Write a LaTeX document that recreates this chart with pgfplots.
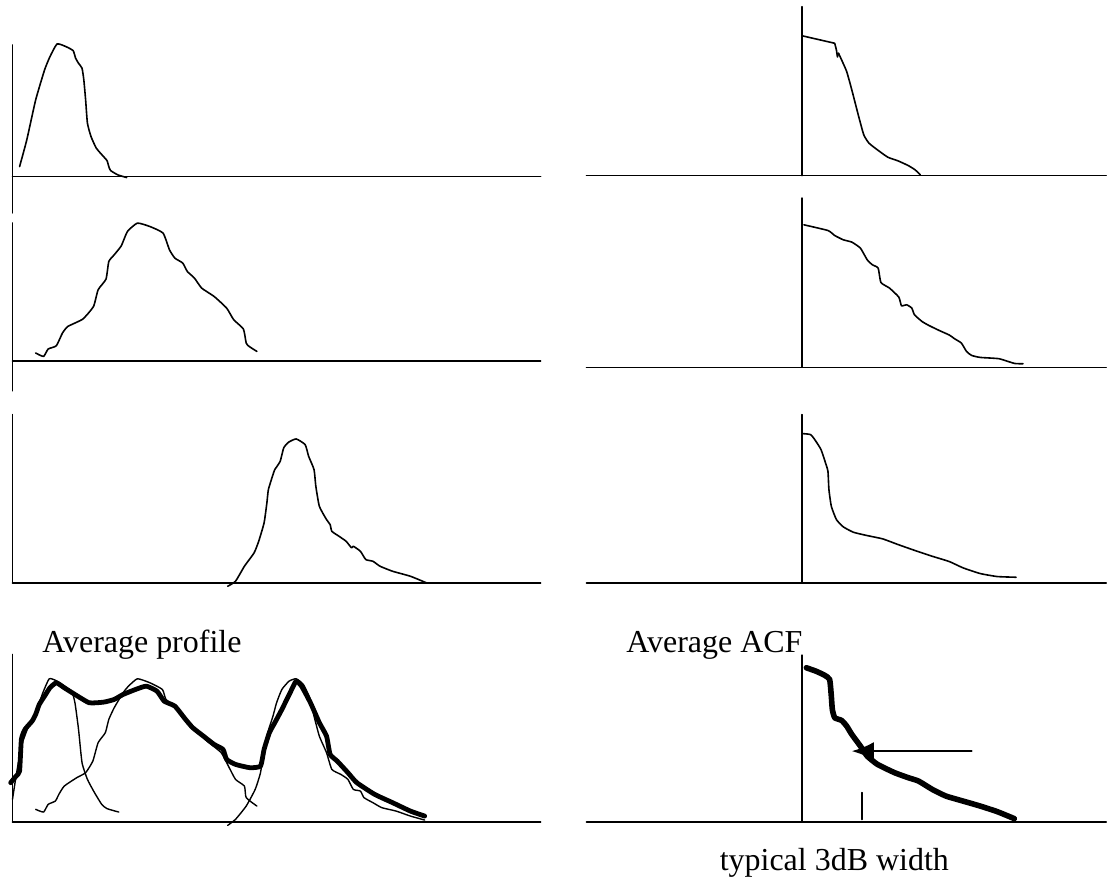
\documentclass[border=0pt]{standalone}
\usepackage{pgfplots}
\pgfplotsset{compat=1.18}
\usetikzlibrary{arrows.meta}
\usepackage{fontspec}
\setmainfont{Liberation Serif}
\begin{document}
\begin{tikzpicture}
\begin{axis}[
  width=553.5pt, height=440pt, scale only axis,
  xmin=0, xmax=1107, ymin=0, ymax=880, y dir=reverse,
  hide axis, clip=false,
  every axis plot/.append style={black, line join=round, line cap=round},
  curve/.style={smooth, tension=0.3},
]
\path (rel axis cs:0,0) rectangle (rel axis cs:1,1);
% ---------- axis lines (left column) ----------
\addplot[line width=0.9pt] coordinates {(12.5,45) (12.5,213)};
\addplot[line width=0.9pt] coordinates {(12.5,223.3) (12.5,391)};
\addplot[line width=0.9pt] coordinates {(12.5,415) (12.5,583.3)};
\addplot[line width=0.9pt] coordinates {(12.5,655) (12.5,822.7)};
\addplot[line width=0.9pt] coordinates {(12.5,176.7) (541,176.7)};
\addplot[line width=0.9pt] coordinates {(12.5,361) (541,361)};
\addplot[line width=0.9pt] coordinates {(12.5,583.3) (541,583.3)};
\addplot[line width=0.9pt] coordinates {(12.5,822.7) (541,822.7)};
% ---------- axis lines (right column) ----------
\addplot[line width=0.9pt] coordinates {(803,6.7) (803,175.7)};
\addplot[line width=0.9pt] coordinates {(803,198.3) (803,367.3)};
\addplot[line width=0.9pt] coordinates {(803,415) (803,583.3)};
\addplot[line width=0.9pt] coordinates {(803,655.7) (803,822.7)};
\addplot[line width=0.9pt] coordinates {(587,175.7) (1107,175.7)};
\addplot[line width=0.9pt] coordinates {(587,367.7) (1107,367.7)};
\addplot[line width=0.9pt] coordinates {(587,583.3) (1107,583.3)};
\addplot[line width=0.9pt] coordinates {(587,822.7) (1107,822.7)};
% ---------- profile 1 ----------
\addplot[line width=0.8pt, curve] coordinates {
(19.6,166.7) (26.8,140) (35.7,100) (44.6,70) (50,56.7) (57.1,44) (66.1,46.7) (73.2,50.7)
(75.7,58.3) (78.6,63.3) (82.1,68.3) (83.9,80) (85.7,100) (87.5,123.3) (91.1,136.7)
(96.4,148.3) (103.6,156.7) (107.1,160.7) (108.9,166.7) (110.7,170.7) (117.9,175) (126.8,177.7)};
% ---------- profile 2 ----------
\addplot[line width=0.8pt, curve] coordinates {
(35.7,353.3) (43.6,356.7) (48.2,349.3) (56.4,346) (62.5,333.3) (67.9,326.7) (82.9,319.3)
(93.6,306.7) (98.2,290) (106.1,279.3) (108.9,261.7) (114.3,255) (121.4,246) (127.5,231.7)
(137.5,223.3) (150,226.7) (163.2,233.3) (169.6,250) (175,258.3) (182.9,263.3) (187.5,271.7)
(194.6,278.3) (201.8,288.3) (214.3,296.7) (226.8,308.3) (233.9,320) (243.6,329.3)
(246.4,343.3) (249.3,346.7) (257.1,351.7)};
% ---------- profile 3 ----------
\addplot[line width=0.8pt, curve] coordinates {
(227.9,586.7) (235.7,581.7) (244.6,566.7) (254.3,553.3) (258.9,541.7) (264.3,523.3)
(267.1,503.3) (268.6,490) (273.2,475) (275,470) (280.4,461.7) (283.9,448.3) (288.6,442.7)
(296.4,439.3) (305.4,445) (308.9,456.7) (314.3,470) (316.1,486.7) (319.6,506.7) (326.8,520)
(330.4,525) (332.1,531.7) (339.3,536.7) (346.4,541.7) (351.8,548.3) (353.6,546.7)
(360.7,551.7) (366.1,560) (373.2,561.7) (380.4,566.7) (392.9,571.7) (410.7,576.7) (426.8,583.3)};
% ---------- average profile: thin copies ----------
\addplot[line width=0.7pt, curve] coordinates {
(12.5,800) (16.1,776.7) (21.4,746.7) (28.6,726.7) (35.7,713.3) (42.9,693.3) (49.3,679.3)
(57.1,681.7) (71.4,691.7) (75,703.3) (78.6,730) (82.1,763.3) (87.5,780) (94.6,793.3)
(101.8,805) (107.1,809.3) (118.9,812.7)};
\addplot[line width=0.7pt, curve] coordinates {
(35.7,810) (43.6,812.7) (48.2,805) (55.4,801.7) (58.9,795) (64.3,786.7) (76.8,778.3)
(85.7,773.3) (92.9,761.7) (98.2,743.3) (105.4,733.3) (108.9,720) (114.3,708.3) (123.2,693.3)
(128.6,686.7) (137.5,679.3) (150,683.3) (162.5,690) (166.1,700) (175,706.7) (183.9,716.7)
(192.9,726.7) (198.2,733.3) (207.1,741.7) (221.4,753.3) (228.6,766.7) (235.7,780)
(244.6,786.7) (246.4,798.3) (257.1,806.7)};
\addplot[line width=0.7pt, curve] coordinates {
(227.9,826) (235.7,820) (246.4,806.7) (255.4,790) (260.7,773.3) (264.3,750) (267.9,733.3)
(273.2,716.7) (276.8,703.3) (282.1,690) (289.3,681.7) (296.4,679.3) (303.6,685) (310.7,700)
(314.3,716.7) (319.6,736.7) (326.8,753.3) (332.1,770) (341.1,775) (348.2,780) (353.6,790)
(360.7,791.7) (364.3,798.3) (373.2,803.3) (382.1,808.3) (396.4,811.7) (410.7,816.7) (425,820.7)};
% ---------- average profile: thick ----------
\addplot[line width=2.4pt, curve] coordinates {
(10.7,783.3) (16.1,776.7) (19.6,771.7) (21.4,740) (25,730) (32.1,721.7) (35.7,715)
(39.3,705) (44.6,696.7) (50,688.3) (56.4,683.3) (64.3,688.3) (75,695) (89.3,703.3)
(103.6,702.7) (114.3,700) (123.2,695) (135.7,690) (146.4,686.7) (157.1,691.7) (164.3,701.7)
(175,706.7) (185.7,720) (192.9,728.3) (203.6,736.7) (214.3,745) (223.2,750) (226.8,760)
(235.7,765) (250,768.3) (260.7,766.7) (264.3,750) (269.6,733.3) (275,723.3) (282.1,710)
(291.1,691.7) (296.4,681.7) (301.8,686.7) (310.7,703.3) (319.6,723.3) (326.8,736.7)
(330.4,755) (337.5,761.7) (348.2,773.3) (357.1,783.3) (375,795) (392.9,803.3) (410.7,811.7) (425,816.7)};
% ---------- ACF 1 ----------
\addplot[line width=0.8pt] coordinates {
(803.6,36) (835.4,43.3) (837.1,50) (838.1,57) (839.2,53.3)};
\addplot[line width=0.8pt, curve] coordinates {
(839.2,53.3) (842.3,60) (847.4,71.7)
(852.5,90) (859.4,116.7) (864.5,135) (869.7,143.3) (878.2,150) (888.5,157.3) (898.8,161)
(909,165.7) (915.9,170) (921,175)};
% ---------- ACF 2 ----------
\addplot[line width=0.8pt, curve] coordinates {
(804.6,225) (828.6,230.7) (835.4,235.7) (844,240) (852.5,242.3) (861.1,248.3) (867.9,260)
(873.1,265) (878.9,268.3) (881.6,282.7) (890.2,288.3) (899.5,297.3) (902.2,306) (907.3,305)
(912.5,308.3) (915.2,315) (922.7,321.7) (929.6,325.7) (939.9,330.7) (950.1,335.3)
(955.3,339) (962.1,343.3) (967.3,351.7) (972.4,355.7) (981,357.7) (999.8,359)
(1015.2,363.7) (1023.8,364)};
% ---------- ACF 3 ----------
\addplot[line width=0.8pt, curve] coordinates {
(803.6,434) (811.4,435) (816.6,441.7) (821.7,450) (826.2,463.3) (828.6,471.7) (829.6,490)
(832,506.7) (837.1,520) (844,527.3) (854.2,532.7) (867.9,536) (883.4,539.3) (898.8,545)
(915.9,551) (933,556.7) (950.1,562) (963.8,568.3) (981,574) (998.1,577) (1016.9,577.7)};
% ---------- average ACF ----------
\addplot[line width=2.8pt, curve] coordinates {
(807,668.3) (816.6,671.7) (825.1,675.7) (830.3,680) (832,696.7) (833,710) (835.4,718.3)
(842.3,721) (847.4,726.7) (852.5,735) (861.1,746.7) (867.9,756.7) (878.2,765) (895.3,773.3)
(909,778.3) (919.3,781.7) (933,790) (946.7,796.7) (963.8,801.7) (981,806.7) (998.1,812.3) (1015.2,819.3)};
% arrow and tick
\addplot[line width=0.9pt, -{Latex[length=11pt,width=9pt]}] coordinates {(972.4,751.7) (852.5,751.7)};
\addplot[line width=0.9pt] coordinates {(862.5,793.3) (862.5,820)};
% ---------- texts ----------
\node[anchor=base west, inner sep=0pt, font=\fontsize{16}{19}\selectfont] at (axis cs:42,652.7) {Average profile};
\node[anchor=base west, inner sep=0pt, font=\fontsize{16}{19}\selectfont] at (axis cs:626.5,652.7) {Average ACF};
\node[anchor=base, inner sep=0pt, font=\fontsize{16}{19}\selectfont] at (axis cs:835,871.5) {typical 3dB width};
\end{axis}
\end{tikzpicture}
\end{document}
